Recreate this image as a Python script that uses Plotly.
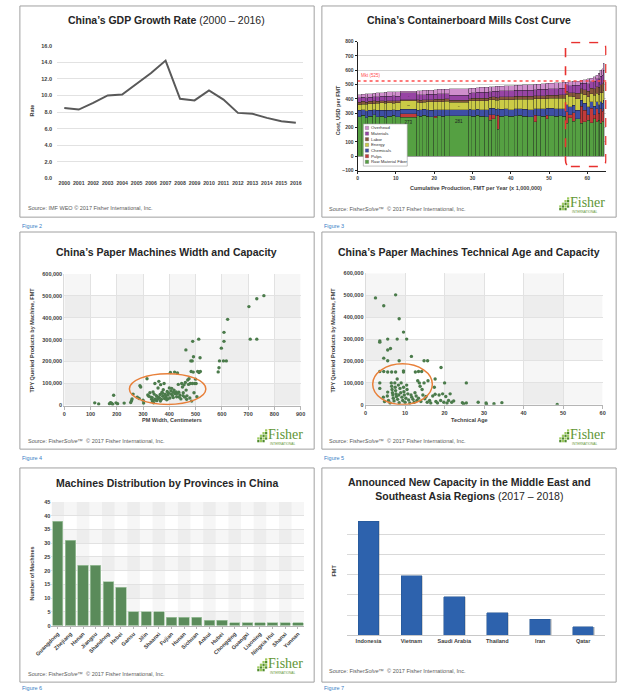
import numpy as np
import plotly.graph_objects as go

W, H = 625, 698
def PX(px): return px / W
def PY(py): return 1 - py / H

FONT = "Liberation Sans"
TITLE_C = "#262626"
TICK_C = "#404040"
SRC_C = "#595959"
FIG_C = "#3a7ec6"
GREEN_DOT = "#4b7b4b"

# ---------------- Figure 2 : GDP ----------------
GDP_YEARS = ["2000", "2001", "2002", "2003", "2004", "2005", "2006", "2007", "2008",
             "2009", "2010", "2011", "2012", "2013", "2014", "2015", "2016"]
GDP_RATE = [8.5, 8.3, 9.1, 10.0, 10.1, 11.4, 12.7, 14.2, 9.6, 9.4, 10.6, 9.5, 7.9, 7.8, 7.3, 6.9, 6.7]

# ---------------- Figure 3 : cost curve ----------------
COMPONENT_NAMES = ["Raw Material Fiber", "Pulps", "Chemicals", "Energy", "Labor", "Materials", "Overhead"]
COMPONENT_COLORS = ["#55a042", "#c23b3b", "#3e4fa5", "#cbcb46", "#86573c", "#9744a4", "#cf8ecc"]
MILL_CAPACITY = [0.9, 1.1, 0.7, 1.3, 0.8, 1.0, 1.2, 0.6, 1.4, 0.9, 1.2, 4.4, 0.6, 0.8, 1.0, 0.7, 1.3, 0.9, 1.1, 0.8,
                 1.3, 5.0, 0.7, 1.2, 0.9, 1.4, 1.0, 0.8, 0.9, 0.6, 0.5, 1.3, 1.1, 1.5, 0.9, 1.2, 1.4, 1.6, 0.8, 1.0,
                 1.3, 0.7, 1.5, 1.2, 1.0, 0.9, 0.6, 1.1, 0.8, 1.2, 0.7, 1.0, 0.8, 0.9, 0.7, 0.6, 0.5, 0.4, 0.4, 0.3]
FIBER = [275, 285, 270, 280, 288, 275, 280, 270, 278, 285, 276, 273, 282, 278, 285, 280, 276, 270, 284, 280,
         282, 281, 284, 278, 285, 280, 276, 250, 262, 282, 190, 280, 284, 278, 282, 285, 280, 276, 240, 282,
         280, 260, 284, 280, 282, 278, 230, 270, 245, 260, 230, 240, 250, 235, 260, 240, 250, 230, 245, 240]
PULPS = [0, 0, 0, 0, 0, 0, 0, 0, 0, 0, 0, 25, 0, 0, 0, 0, 0, 10, 0, 0,
         0, 0, 0, 0, 0, 0, 0, 40, 28, 0, 95, 0, 0, 0, 0, 0, 0, 0, 45, 0,
         0, 25, 0, 0, 0, 0, 80, 20, 60, 0, 120, 80, 40, 100, 30, 90, 50, 100, 70, 90]
CHEMICALS = [45, 40, 48, 42, 38, 45, 40, 50, 42, 40, 44, 30, 40, 45, 42, 44, 46, 45, 42, 46,
             44, 42, 45, 48, 44, 46, 48, 45, 46, 46, 45, 48, 46, 48, 50, 46, 48, 50, 48, 50,
             52, 50, 50, 52, 50, 54, 50, 55, 50, 60, 40, 50, 55, 45, 60, 50, 60, 50, 55, 60]
ENERGY = [40, 38, 45, 45, 40, 50, 52, 50, 54, 46, 52, 58, 55, 52, 50, 55, 58, 55, 56, 55,
          58, 54, 58, 60, 60, 62, 62, 58, 60, 64, 60, 66, 64, 68, 66, 68, 70, 72, 70, 70,
          70, 68, 70, 72, 74, 74, 70, 75, 60, 80, 50, 60, 70, 55, 75, 60, 70, 65, 75, 70]
LABOR = [18, 20, 15, 16, 20, 15, 16, 15, 15, 18, 16, 8, 18, 16, 18, 15, 16, 18, 16, 18,
         16, 15, 16, 18, 17, 18, 20, 18, 18, 20, 20, 20, 20, 20, 20, 20, 20, 20, 20, 20,
         22, 22, 22, 22, 22, 22, 22, 25, 30, 40, 30, 35, 40, 40, 45, 45, 50, 55, 60, 70]
MATERIALS = [32, 30, 32, 30, 30, 32, 30, 34, 30, 35, 32, 48, 36, 38, 35, 38, 36, 36, 38, 38,
             36, 34, 38, 38, 40, 40, 42, 40, 40, 42, 42, 42, 44, 44, 42, 42, 44, 44, 42, 44,
             44, 44, 46, 46, 46, 46, 46, 48, 50, 55, 40, 45, 50, 45, 55, 55, 60, 60, 60, 70]
OVERHEAD = [20, 20, 26, 25, 25, 26, 27, 28, 30, 26, 31, 10, 25, 28, 29, 28, 30, 30, 30, 30,
            32, 44, 32, 33, 32, 34, 34, 33, 32, 34, 37, 34, 34, 35, 35, 35, 36, 38, 37, 38,
            38, 39, 38, 40, 40, 42, 20, 27, 27, 30, 20, 25, 35, 25, 30, 25, 40, 40, 45, 50]
MARKET_PRICE = 525

# ---------------- Figure 4 : width vs capacity (width cm, capacity kt) ----------------
WIDTH_CM = [116, 131, 172, 176, 180, 184, 188, 197, 203, 228, 253, 256, 258, 262, 278, 285, 288, 291, 300, 302, 315,
            318, 322, 326, 330, 333, 336, 338, 340, 342, 345, 347, 350, 352, 355, 357, 360, 362, 365, 367, 370,
            372, 375, 377, 380, 382, 384, 387, 390, 392, 395, 397, 400, 402, 404, 406, 409, 412, 415, 418, 420,
            423, 426, 428, 431, 434, 436, 440, 444, 447, 450, 453, 456, 459, 461, 464, 467, 470, 473, 475, 478,
            480, 483, 485, 488, 491, 494, 497, 500, 502, 505, 508, 513, 518,
            335, 344, 358, 366, 374, 386, 394, 408, 416, 430, 438, 452, 466,
            463, 482, 487, 489, 492, 512, 517, 586, 589, 591, 598, 606, 608, 608, 617, 622, 703, 708, 733, 733, 760]
WIDTH_CAP_KT = [12, 7, 8, 13, 10, 6, 47, 12, 8, 11, 14, 22, 30, 52, 38, 32, 90, 84, 24, 11, 122,
                48, 42, 58, 38, 28, 18, 62, 12, 52, 100, 30, 45, 22, 40, 80, 110, 36, 50, 95, 28,
                60, 42, 72, 100, 32, 52, 38, 26, 64, 48, 56, 80, 34, 150, 66, 78, 46, 36, 70, 152,
                54, 62, 40, 148, 96, 60, 48, 30, 100, 84, 58, 94, 38, 105, 70, 44, 116, 96, 122, 34,
                100, 155, 20, 100, 152, 58, 100, 120, 100, 40, 155, 150, 155,
                35, 25, 30, 20, 55, 45, 30, 52, 60, 55, 38, 45, 28,
                253, 203, 203, 292, 222, 302, 217, 153, 172, 203, 261, 203, 292, 333, 203, 392, 450, 302, 486, 302, 500]

# ---------------- Figure 5 : technical age vs capacity ----------------
AGE_YEARS = [2.5, 7.6, 4.6, 8.5, 9.6, 3.6, 3.6, 5.6, 8.0, 10.4, 5.6, 6.3, 4.6, 5.6, 8.5, 11.6, 14.8, 15.7, 19.1,
             3.6, 4.6, 5.6, 6.6, 7.6, 9.6, 9.6, 12.6, 13.4, 14.2, 17.6, 20.0, 25.5,
             3.6, 3.6, 4.5, 4.8, 5.5, 5.6, 5.8, 6.2, 6.5, 6.6, 6.7, 6.8, 6.9, 7.0, 7.2, 7.4, 7.5, 7.6, 7.7, 7.8,
             8.0, 8.1, 8.3, 8.4, 8.5, 8.7, 8.9, 9.0, 9.2, 9.4, 9.6, 9.7, 9.8, 10.0, 10.2, 10.4, 10.5, 10.7, 10.9,
             11.2, 11.5, 11.7, 12.0, 12.3, 12.5, 12.8, 13.0, 13.2, 13.4, 13.6, 13.8, 14.0, 14.3, 14.5, 14.8, 15.0,
             15.3, 15.6, 15.8, 16.2, 16.5, 17.0, 17.4, 17.6, 17.8, 18.2, 18.6, 19.0, 19.5, 19.8, 20.3, 20.6, 21.0,
             21.4, 21.8, 22.3, 24.5, 24.8, 25.5, 28.5, 30.5, 30.6, 32.5, 34.5, 48.5]
AGE_CAP_KT = [488, 502, 452, 393, 332, 291, 286, 300, 300, 300, 250, 257, 213, 201, 201, 221, 201, 201, 170,
              152, 152, 150, 150, 150, 155, 150, 150, 152, 152, 118, 100, 100,
              100, 75, 35, 15, 40, 58, 20, 8, 100, 85, 70, 55, 45, 30, 18, 100, 80, 65, 50, 38,
              118, 25, 90, 45, 10, 75, 55, 100, 35, 20, 80, 60, 45, 12, 30, 90, 70, 50, 22,
              8, 45, 35, 25, 12, 55, 40, 20, 110, 30, 100, 85, 15, 70, 45, 100, 28,
              38, 12, 110, 20, 8, 40, 80, 48, 15, 8, 45, 20, 50, 12, 38, 8, 20,
              50, 12, 18, 10, 5, 8, 12, 8, 3, 5, 10, 2]

# ---------------- Figure 6 : provinces ----------------
PROVINCES = ["Guangdong", "Zhejiang", "Henan", "Jiangsu", "Shandong", "Hebei", "Gansu", "Jilin", "Shaanxi",
             "Fujian", "Hunan", "Sichuan", "Anhui", "Hubei", "Chongqing", "Guangxi", "Liaoning",
             "Ningxia Hui", "Shanxi", "Yunnan"]
PROVINCE_MACHINES = [38, 31, 22, 22, 16, 14, 5, 5, 5, 3, 3, 3, 2, 2, 1, 1, 1, 1, 1, 1]

# ---------------- Figure 7 : new capacity ----------------
REGIONS = ["Indonesia", "Vietnam", "Saudi Arabia", "Thailand", "Iran", "Qatar"]
REGION_CAPACITY = [5.65, 2.95, 1.9, 1.12, 0.78, 0.43]

# ============================================================
fig = go.Figure()
shapes = []
ann = []

def text(px, py, s, size, color=TICK_C, xanchor="left", yanchor="middle", angle=0, family=FONT, bold=False):
    ann.append(dict(x=PX(px), y=PY(py), xref="paper", yref="paper", text=s, showarrow=False,
                    font=dict(size=size, color=color, family=family, weight="bold" if bold else "normal"),
                    xanchor=xanchor, yanchor=yanchor, textangle=angle, borderpad=0))

def prect(x0, y0, x1, y1, line="#a0a0a0", fill=None, lw=1):
    shapes.append(dict(type="rect", xref="paper", yref="paper", x0=PX(x0), x1=PX(x1), y0=PY(y1), y1=PY(y0),
                       line=dict(color=line, width=lw), fillcolor=fill, layer="below"))

def logo(px, py):
    cells = [(0, 3), (0, 4), (1, 2), (1, 3), (1, 4), (2, 1), (2, 2), (2, 3), (2, 4), (3, 0), (3, 1), (3, 2), (3, 3)]
    s = 2.7
    for (c, r) in cells:
        col = "#4f8a2c" if (c + r) % 2 == 0 else "#9cc95c"
        shapes.append(dict(type="rect", xref="paper", yref="paper", x0=PX(px + c * s), x1=PX(px + c * s + s - 0.4),
                           y0=PY(py + r * s + s - 0.4), y1=PY(py + r * s), line=dict(width=0), fillcolor=col))
    text(px + 10.5, py + 5, "Fisher", 14, color="#5f9636", family="Liberation Serif")
    text(px + 12, py + 14.5, "INTERNATIONAL", 3.2, color="#5f9636")

# panel frames
panels = [(3, 3, 308, 216), (316, 3, 621, 216), (3, 231, 308, 450), (316, 231, 621, 450),
          (3, 469, 308, 685), (316, 469, 621, 685)]
for p in panels:
    prect(*p)

# figure labels
for lbl, (x, y) in zip(["Figure 2", "Figure 3", "Figure 4", "Figure 5", "Figure 6", "Figure 7"],
                       [(4, 225), (317, 225), (4, 459), (317, 459), (4, 691), (317, 691)]):
    text(x, y, lbl, 5.5, color=FIG_C)

TF = dict(size=5.5, color=TICK_C, family=FONT, weight="bold")
def axis(**kw):
    base = dict(showgrid=False, zeroline=False, showline=False, ticks="", tickfont=TF, fixedrange=True)
    base.update(kw)
    return base

# ---------- Panel 1 ----------
fig.add_trace(go.Scatter(x=GDP_YEARS, y=GDP_RATE, mode="lines", line=dict(color="#595959", width=2),
                         xaxis="x", yaxis="y", hoverinfo="skip"))
text(155, 17, "<b>China’s GDP Growth Rate</b> (2000 – 2016)", 10.5, color=TITLE_C, xanchor="center")
text(16, 108, "Rate", 5.5, angle=-90, bold=True, xanchor="center")
text(10, 207, "Source: IMF WEO © 2017 Fisher International, Inc.", 5.5, color=SRC_C)

# ---------- Panel 2 ----------
mids = np.cumsum(MILL_CAPACITY) - np.array(MILL_CAPACITY) / 2
comp_vals = [FIBER, PULPS, CHEMICALS, ENERGY, LABOR, MATERIALS, OVERHEAD]
for name, vals, color in zip(COMPONENT_NAMES, comp_vals, COMPONENT_COLORS):
    labels = [str(v) if (c >= 4 and v >= 44) else "" for v, c in zip(vals, MILL_CAPACITY)]
    fig.add_trace(go.Bar(x=mids, y=vals, width=MILL_CAPACITY, name=name,
                         marker=dict(color=color, line=dict(color="rgba(30,30,30,0.65)", width=0.45)),
                         text=labels, textposition="inside", insidetextanchor="end", textangle=0,
                         textfont=dict(size=4.5, color="#1e1e1e", family=FONT),
                         xaxis="x2", yaxis="y2", hoverinfo="skip"))
shapes.append(dict(type="line", xref="x2", yref="y2", x0=0, x1=65, y0=MARKET_PRICE, y1=MARKET_PRICE,
                   line=dict(color="#ff4d4d", width=1.4, dash="dot")))
ann.append(dict(x=0.3, y=MARKET_PRICE + 6, xref="x2", yref="y2", text=f"Mkt ({MARKET_PRICE})", showarrow=False,
                font=dict(size=4.5, color="#ff4d4d", family=FONT), xanchor="left", yanchor="bottom"))
x0, x1, y0, y1, rx, ry = 54.3, 64.85, -72, 795, 1.4, 45
path = (f"M {x0+rx},{y0} L {x1-rx},{y0} Q {x1},{y0} {x1},{y0+ry} L {x1},{y1-ry} Q {x1},{y1} {x1-rx},{y1} "
        f"L {x0+rx},{y1} Q {x0},{y1} {x0},{y1-ry} L {x0},{y0+ry} Q {x0},{y0} {x0+rx},{y0} Z")
shapes.append(dict(type="path", xref="x2", yref="y2", path=path, line=dict(color="#e8312f", width=1.6, dash="dash")))
# legend (manual)
prect(359, 122, 404.5, 164.5, line="#9a9a9a", fill="white", lw=0.6)
shapes[-1]["layer"] = "above"
for i, (name, color) in enumerate(zip(COMPONENT_NAMES[::-1], COMPONENT_COLORS[::-1])):
    yy = 126 + i * 5.7
    shapes.append(dict(type="rect", xref="paper", yref="paper", x0=PX(361), x1=PX(364.5), y0=PY(yy + 1.7),
                       y1=PY(yy - 1.7), line=dict(color="#555", width=0.3), fillcolor=color, layer="above"))
    text(365.5, yy, name, 4.3, color="#303030")
text(469, 17, "<b>China’s Containerboard Mills Cost Curve</b>", 10.5, color=TITLE_C, xanchor="center")
text(333, 108, "Cost, USD per FMT", 5.5, angle=-90, bold=True, xanchor="center")
text(476, 187, "Cumulative Production, FMT per Year (x 1,000,000)", 5.5, bold=True, xanchor="center")
text(322, 208, "Source: Fisher<i>Solve</i>™  © 2017 Fisher International, Inc.", 5.5, color=SRC_C)
logo(562, 196)

# ---------- Panel 3 ----------
for k in range(0, 900, 200):
    shapes.append(dict(type="rect", xref="x3", yref="y3", x0=k, x1=k + 100, y0=0, y1=600000,
                       fillcolor="rgba(0,0,0,0.035)", line=dict(width=0), layer="below"))
for k in range(0, 600000, 200000):
    shapes.append(dict(type="rect", xref="x3", yref="y3", x0=0, x1=900, y0=k, y1=k + 100000,
                       fillcolor="rgba(0,0,0,0.035)", line=dict(width=0), layer="below"))
fig.add_trace(go.Scatter(x=WIDTH_CM, y=np.array(WIDTH_CAP_KT) * 1000, mode="markers",
                         marker=dict(size=3.4, color=GREEN_DOT), xaxis="x3", yaxis="y3", hoverinfo="skip"))
shapes.append(dict(type="circle", xref="x3", yref="y3", x0=248, x1=539, y0=5000, y1=145000,
                   line=dict(color="#e8803a", width=1.5)))
text(155, 251, "<b>China’s Paper Machines Width and Capacity</b>", 10.5, color=TITLE_C, xanchor="center")
text(16, 340, "TPY Queried Products by Machine, FMT", 5.5, angle=-90, bold=True, xanchor="center")
text(161, 421, "PM Width, Centimeters", 5.5, bold=True, xanchor="center")
text(10, 442, "Source: Fisher<i>Solve</i>™  © 2017 Fisher International, Inc.", 5.5, color=SRC_C)
logo(249, 430)

# ---------- Panel 4 ----------
for k in range(0, 60, 20):
    shapes.append(dict(type="rect", xref="x4", yref="y4", x0=k, x1=k + 10, y0=0, y1=600000,
                       fillcolor="rgba(0,0,0,0.035)", line=dict(width=0), layer="below"))
for k in range(0, 600000, 200000):
    shapes.append(dict(type="rect", xref="x4", yref="y4", x0=0, x1=60, y0=k, y1=k + 100000,
                       fillcolor="rgba(0,0,0,0.035)", line=dict(width=0), layer="below"))
fig.add_trace(go.Scatter(x=AGE_YEARS, y=np.array(AGE_CAP_KT) * 1000, mode="markers",
                         marker=dict(size=3.4, color=GREEN_DOT), xaxis="x4", yaxis="y4", hoverinfo="skip"))
shapes.append(dict(type="circle", xref="x4", yref="y4", x0=1.8, x1=16.9, y0=1500, y1=187000,
                   line=dict(color="#e8803a", width=1.5)))
text(469, 251, "<b>China’s Paper Machines Technical Age and Capacity</b>", 10.5, color=TITLE_C, xanchor="center")
text(328, 340, "TPY Queried Products by Machine, FMT", 5.5, angle=-90, bold=True, xanchor="center")
text(469, 421, "Technical Age", 5.5, bold=True, xanchor="center")
text(322, 442, "Source: Fisher<i>Solve</i>™  © 2017 Fisher International, Inc.", 5.5, color=SRC_C)
logo(562, 430)

# ---------- Panel 5 ----------
for k in range(0, len(PROVINCES), 2):
    shapes.append(dict(type="rect", xref="x5", yref="y5", x0=k - 0.5, x1=k + 0.5, y0=0, y1=45,
                       fillcolor="rgba(0,0,0,0.035)", line=dict(width=0), layer="below"))
for k in range(0, 45, 10):
    shapes.append(dict(type="rect", xref="x5", yref="y5", x0=-0.5, x1=len(PROVINCES) - 0.5, y0=k, y1=k + 5,
                       fillcolor="rgba(0,0,0,0.035)", line=dict(width=0), layer="below"))
fig.add_trace(go.Bar(x=PROVINCES, y=PROVINCE_MACHINES, width=0.82,
                     marker=dict(color="#5a8b5a", line=dict(color="#a5c8a5", width=0.7)),
                     xaxis="x5", yaxis="y5", hoverinfo="skip"))
text(155, 484, "<b>Machines Distribution by Provinces in China</b>", 10.5, color=TITLE_C, xanchor="center")
text(16, 575, "Number of Machines", 5.5, angle=-90, bold=True, xanchor="center")
text(10, 677, "Source: Fisher<i>Solve</i>™  © 2017 Fisher International, Inc.", 5.5, color=SRC_C)
logo(249, 661)

# ---------- Panel 6 ----------
fig.add_trace(go.Bar(x=REGIONS, y=REGION_CAPACITY, width=0.48, offset=-0.20,
                     marker=dict(color="rgba(60,60,60,0.22)", line=dict(width=0)),
                     xaxis="x6", yaxis="y6", hoverinfo="skip"))
fig.add_trace(go.Bar(x=REGIONS, y=REGION_CAPACITY, width=0.48,
                     marker=dict(color="#2d62ad", line=dict(color="#24548f", width=0.5)),
                     xaxis="x7", yaxis="y7", hoverinfo="skip"))
text(469, 490, "<b>Announced New Capacity in the Middle East and</b><br><b>Southeast Asia Regions</b> (2017 – 2018)",
     10.5, color=TITLE_C, xanchor="center")
text(329, 572, "FMT", 5.5, angle=-90, bold=True, xanchor="center")
text(322, 674, "Source: Fisher<i>Solve</i>™  © 2017 Fisher International, Inc.", 5.5, color=SRC_C)

GRID = "#e2e2e2"
fig.update_layout(
    width=W, height=H, margin=dict(l=0, r=0, t=0, b=0), paper_bgcolor="white", plot_bgcolor="white",
    showlegend=False, barmode="stack", font=dict(family=FONT),
    xaxis=axis(domain=[PX(41.5), PX(296.5)], anchor="y", type="category", range=[-0.5, 16.5], tickangle=0,
               tickfont=dict(size=5.2, color=TICK_C, family=FONT, weight="bold")),
    yaxis=axis(domain=[PY(177), PY(43)], anchor="x", range=[0, 16], dtick=2, tickformat=".1f",
               showgrid=True, gridcolor=GRID, ticklabelstandoff=4),
    xaxis2=axis(domain=[PX(353), PX(611)], anchor="y2", range=[0, 65], dtick=10, showline=True,
                linecolor="#222", ticks="outside", ticklen=2, tickcolor="#222", tickfont=dict(size=5, color=TICK_C, family=FONT, weight="bold")),
    yaxis2=axis(domain=[PY(169), PY(39)], anchor="x2", range=[-100, 800], dtick=100, showline=True,
                linecolor="#222", ticks="outside", ticklen=2, tickcolor="#222", showgrid=True, gridcolor="#d4d4d4",
                tickfont=dict(size=5, color=TICK_C, family=FONT, weight="bold")),
    xaxis3=axis(domain=[PX(49), PX(294)], anchor="y3", range=[0, 900], dtick=100, showgrid=True, gridcolor=GRID,
                showline=True, linecolor="#b5b5b5", ticks="outside", ticklen=3, tickcolor="#b5b5b5"),
    yaxis3=axis(domain=[PY(406), PY(273)], anchor="x3", range=[0, 600000], dtick=100000, tickformat=",",
                showgrid=True, gridcolor=GRID, showline=True, linecolor="#dcdcdc"),
    xaxis4=axis(domain=[PX(361.3), PX(607)], anchor="y4", range=[0, 60], dtick=10, showgrid=True, gridcolor=GRID,
                showline=True, linecolor="#b5b5b5", ticks="outside", ticklen=3, tickcolor="#b5b5b5"),
    yaxis4=axis(domain=[PY(405.3), PY(272.7)], anchor="x4", range=[0, 600000], dtick=100000, tickformat=",",
                showgrid=True, gridcolor=GRID, showline=True, linecolor="#dcdcdc"),
    xaxis5=axis(domain=[PX(35.7), PX(297.7)], anchor="y5", type="category", range=[-0.5, 19.5], tickangle=-45,
                showline=True, linecolor="#b5b5b5", ticks="outside", ticklen=2, tickcolor="#b5b5b5"),
    yaxis5=axis(domain=[PY(628), PY(503.3)], anchor="x5", range=[0, 45], dtick=5, showgrid=True, gridcolor=GRID),
    xaxis6=axis(domain=[PX(342), PX(609)], anchor="y6", type="category", range=[-0.5, 5.5],
                showline=True, linecolor="#c8c8c8"),
    yaxis6=axis(domain=[PY(637.7), PY(515.7)], anchor="x6", range=[0, 6], dtick=1, showticklabels=False,
                showgrid=True, gridcolor="#d9d9d9"),
    xaxis7=axis(domain=[PX(342), PX(609)], anchor="y7", type="category", range=[-0.5, 5.5], overlaying="x6",
                showticklabels=False),
    yaxis7=axis(domain=[PY(637.7), PY(515.7)], anchor="x7", range=[0, 6], overlaying="y6", showticklabels=False),
    shapes=shapes, annotations=ann,
)
fig.write_html("out.html", config={"displayModeBar": False},
               post_script="document.body.style.margin='0';document.body.style.overflow='hidden';")
